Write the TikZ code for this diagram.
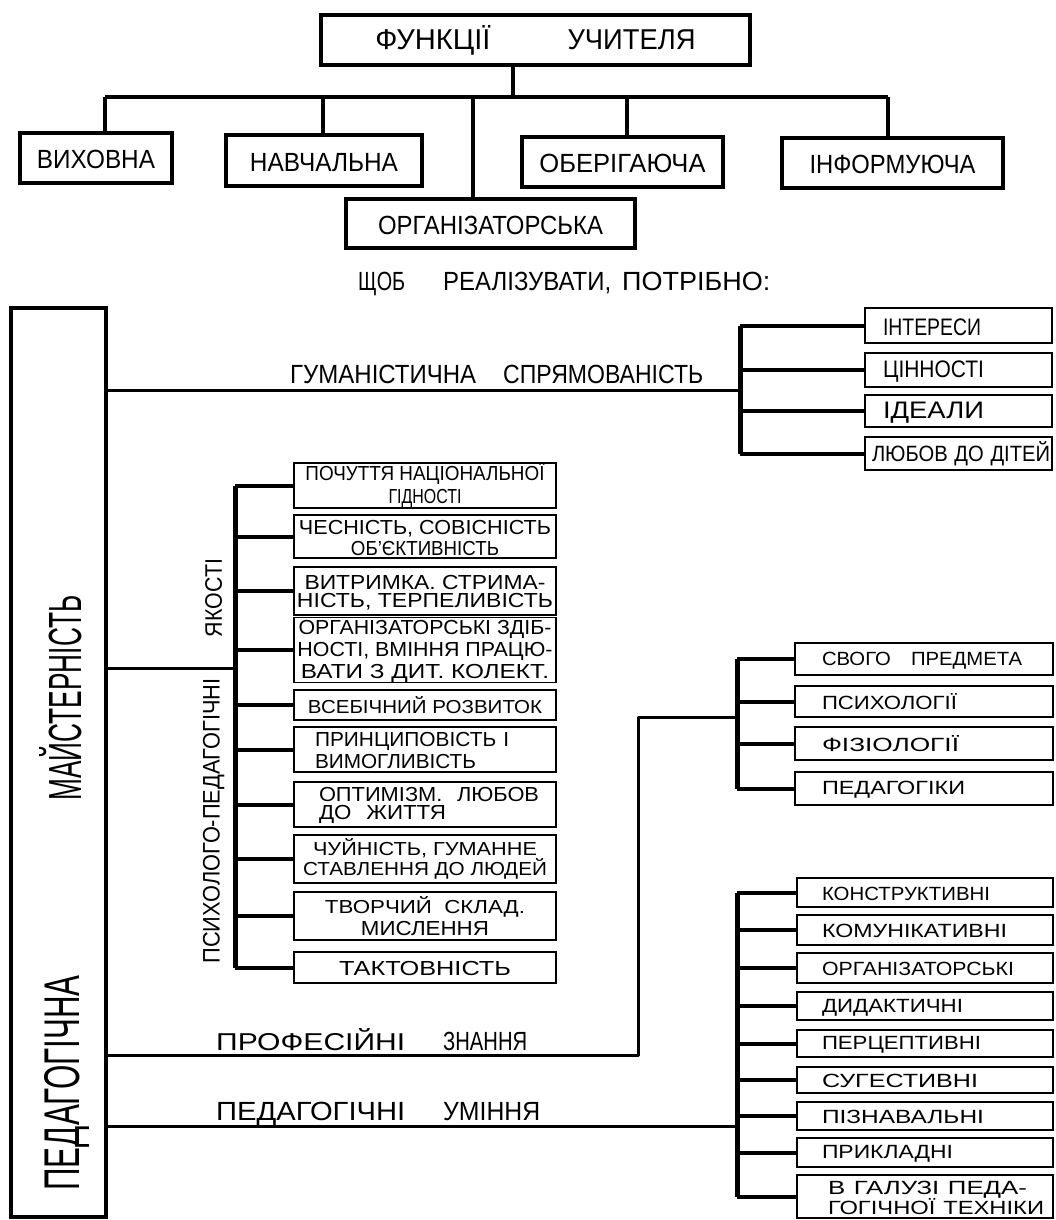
\documentclass[tikz,border=0pt]{standalone}
\usepackage{fontspec}
\setmainfont{Liberation Sans}
\usepackage{graphicx}
\newcommand\fitt[3]{\resizebox{#1pt}{#2pt}{\vphantom{Ї}#3}}
\tikzset{
  topbx/.style={draw, line width=4pt, inner sep=0pt},
  lstbx/.style={draw, line width=1.8pt, inner sep=0pt, font=\fontsize{10}{18}\selectfont},
  qbx/.style={lstbx, minimum width=262pt, align=center},
  qbxl/.style={lstbx, minimum width=262pt, inner xsep=21pt, text width=220pt, align=left},
  hbx/.style={lstbx, minimum width=187pt, inner xsep=18pt, text width=151pt, align=left},
  pbx/.style={lstbx, minimum width=258pt, inner xsep=27pt, text width=204pt, align=left},
  ubx/.style={lstbx, minimum width=256pt, inner xsep=25pt, text width=206pt, align=left},
  conn/.style={line width=4pt},
  mline/.style={line width=3pt},
  brkt/.style={line width=5pt},
  tck/.style={line width=4pt},
  lbltxt/.style={inner sep=0pt, anchor=base west},
  rottxt/.style={inner sep=0pt, rotate=90},
}
\begin{document}
\begin{tikzpicture}[x=1pt, y=-1pt]
\fill[white] (0,0) rectangle (1055,1220);
\useasboundingbox (0,0) rectangle (1055,1220);

% ---------- top part ----------
\node[topbx, minimum width=429pt, minimum height=50pt] (top) at (535.5,40)
  {\fitt{115}{24}{ФУНКЦІЇ}\hspace{77pt}\fitt{128}{24}{УЧИТЕЛЯ}\hspace{60pt}};
\node[topbx, minimum width=152pt, minimum height=50pt] (vyh) at (96,158) {\fitt{118}{22}{ВИХОВНА}};
\node[topbx, minimum width=196pt, minimum height=51pt] (nav) at (324,160.5) {\fitt{148}{22}{НАВЧАЛЬНА}\hspace{20pt}};
\node[topbx, minimum width=289pt, minimum height=49pt] (org) at (490.5,223.5) {\fitt{225}{22}{ОРГАНІЗАТОРСЬКА}\hspace{16pt}};
\node[topbx, minimum width=201pt, minimum height=50pt] (obe) at (622.5,162) {\fitt{166}{22}{ОБЕРІГАЮЧА}};
\node[topbx, minimum width=221pt, minimum height=50pt] (inf) at (892.5,163) {\fitt{166}{22}{ІНФОРМУЮЧА}\hspace{25pt}};

\coordinate (tj) at (513,97);
\coordinate (j1) at (105,97);
\coordinate (j2) at (323,97);
\coordinate (j3) at (473,97);
\coordinate (j4) at (627,97);
\coordinate (j5) at (888,97);
\draw[conn] (tj |- top.south) -- (tj);
\draw[conn] (j1) -- (j5);
\draw[conn] (j1) -- (j1 |- vyh.north);
\draw[conn] (j2) -- (j2 |- nav.north);
\draw[conn] (j3) -- (j3 |- org.north);
\draw[conn] (j4) -- (j4 |- obe.north);
\draw[conn] (j5) -- (j5 |- inf.north);

\node[lbltxt] (shob) at (358,290)
  {\fitt{47}{22}{ЩОБ}\hspace{38pt}\fitt{168}{22}{РЕАЛІЗУВАТИ,}\hspace{11pt}\fitt{148}{22}{ПОТРІБНО:}};

% ---------- left column ----------
\node[topbx, minimum width=95pt, minimum height=909pt] (mast) at (58.5,762.5) {};
\node[rottxt] (tped) at (63,1083) {\fitt{215}{42}{ПЕДАГОГІЧНА}};
\node[rottxt] (tmai) at (61,698) {\fitt{205}{42}{МАЙСТЕРНІСТЬ}};

% ---------- humanistic orientation ----------
\coordinate (hj) at (740,390);
\node[lbltxt] (thum) at (290,383) {\fitt{186}{22}{ГУМАНІСТИЧНА}\hspace{27pt}\fitt{200}{22}{СПРЯМОВАНІСТЬ}};
\node[hbx, minimum height=35pt] (int) at (958.5,325.5) {\fitt{98}{20}{ІНТЕРЕСИ}};
\node[hbx, minimum height=34pt] (cin) at (958.5,370) {\fitt{101}{20}{ЦІННОСТІ}};
\node[hbx, minimum height=32pt] (ide) at (958.5,411) {\fitt{101}{20}{ІДЕАЛИ}};
\node[hbx, minimum height=33pt, inner xsep=7pt, text width=173pt] (lyu) at (958.5,453.5) {\fitt{178}{20}{ЛЮБОВ ДО ДІТЕЙ}};
\draw[mline] (mast.east |- hj) -- (hj);
\draw[brkt] (int.west -| hj) -- (lyu.west -| hj);
\foreach \n in {int,cin,ide,lyu} \draw[tck] (\n.west -| hj) -- (\n.west);

% ---------- psycho-pedagogical qualities ----------
\coordinate (qj) at (235,668);
\node[rottxt] (tps) at (212,821) {\fitt{285}{20}{ПСИХОЛОГО-ПЕДАГОГІЧНІ}};
\node[rottxt] (tya) at (212,598) {\fitt{78}{20}{ЯКОСТІ}};
\node[qbx, minimum height=45pt] (q1) at (425,485.5) {\fitt{239}{17}{ПОЧУТТЯ НАЦІОНАЛЬНОЇ}\\\fitt{73}{17}{ГІДНОСТІ}};
\node[qbx, minimum height=43pt] (q2) at (425,536.5) {\fitt{252}{17}{ЧЕСНІСТЬ, СОВІСНІСТЬ}\\\fitt{148}{17}{ОБ'ЄКТИВНІСТЬ}};
\node[qbx, minimum height=48pt] (q3) at (425,591) {\fitt{241}{17}{ВИТРИМКА. СТРИМА-}\\\fitt{256}{17}{НІСТЬ, ТЕРПЕЛИВІСТЬ}};
\node[qbx, minimum height=64pt] (q4) at (425,650) {\fitt{253}{17}{ОРГАНІЗАТОРСЬКІ ЗДІБ-}\\\fitt{255}{17}{НОСТІ, ВМІННЯ ПРАЦЮ-}\\\fitt{248}{17}{ВАТИ З ДИТ. КОЛЕКТ.}};
\node[qbx, minimum height=30pt] (q5) at (425,705) {\fitt{234}{17}{ВСЕБІЧНИЙ РОЗВИТОК}};
\node[qbxl, minimum height=45pt] (q6) at (425,749.5) {\fitt{194}{17}{ПРИНЦИПОВІСТЬ І}\\\fitt{161}{17}{ВИМОГЛИВІСТЬ}};
\node[qbxl, minimum height=45pt, inner xsep=25pt, text width=212pt] (q7) at (425,804.5) {\fitt{220}{17}{ОПТИМІЗМ.\ \ ЛЮБОВ}\\\fitt{127}{17}{ДО\ \ ЖИТТЯ}};
\node[qbx, minimum height=48pt] (q8) at (425,859) {\fitt{224}{17}{ЧУЙНІСТЬ, ГУМАННЕ}\\\fitt{244}{17}{СТАВЛЕННЯ ДО ЛЮДЕЙ}};
\node[qbx, minimum height=48pt] (q9) at (425,916) {\fitt{200}{17}{ТВОРЧИЙ\ \ СКЛАД.}\\\fitt{128}{17}{МИСЛЕННЯ}};
\node[qbx, minimum height=31pt] (q10) at (425,967.5) {\fitt{172}{17}{ТАКТОВНІСТЬ}};
\draw[mline] (mast.east |- qj) -- (qj);
\draw[brkt] (q1.west -| qj) -- (q10.west -| qj);
\foreach \n in {q1,q2,q3,q4,q5,q6,q7,q8,q9,q10} \draw[tck] (\n.west -| qj) -- (\n.west);

% ---------- professional knowledge ----------
\coordinate (pk1) at (638,1055);
\coordinate (pk2) at (638,717);
\coordinate (pk3) at (737,717);
\node[lbltxt] (tprof) at (216,1050) {\fitt{189}{22}{ПРОФЕСІЙНІ}\hspace{38pt}\fitt{84}{22}{ЗНАННЯ}};
\node[pbx, minimum height=32pt] (svo) at (924,659) {\fitt{200}{16}{СВОГО\ \ \ ПРЕДМЕТА}};
\node[pbx, minimum height=31pt] (psy) at (924,701.5) {\fitt{135}{16}{ПСИХОЛОГІЇ}};
\node[pbx, minimum height=33pt] (fiz) at (924,743.5) {\fitt{137}{16}{ФІЗІОЛОГІЇ}};
\node[pbx, minimum height=33pt] (ped) at (924,788.5) {\fitt{143}{16}{ПЕДАГОГІКИ}};
\draw[mline, line join=round] (mast.east |- pk1) -- (pk1) -- (pk2) -- (pk3);
\draw[brkt] (svo.west -| pk3) -- (ped.west -| pk3);
\foreach \n in {svo,psy,fiz,ped} \draw[tck] (\n.west -| pk3) -- (\n.west);

% ---------- pedagogical skills ----------
\coordinate (uj) at (737,1126);
\node[lbltxt] (tum) at (216,1120) {\fitt{189}{22}{ПЕДАГОГІЧНІ}\hspace{38pt}\fitt{97}{22}{УМІННЯ}};
\node[ubx, minimum height=29pt] (kon) at (925,892.5) {\fitt{168}{16}{КОНСТРУКТИВНІ}};
\node[ubx, minimum height=30pt] (kom) at (925,930) {\fitt{185}{16}{КОМУНІКАТИВНІ}};
\node[ubx, minimum height=30pt] (orh) at (925,968) {\fitt{192}{16}{ОРГАНІЗАТОРСЬКІ}};
\node[ubx, minimum height=28pt] (dyd) at (925,1006) {\fitt{141}{16}{ДИДАКТИЧНІ}};
\node[ubx, minimum height=27pt] (per) at (925,1043.5) {\fitt{159}{16}{ПЕРЦЕПТИВНІ}};
\node[ubx, minimum height=26pt] (sug) at (925,1080) {\fitt{156}{16}{СУГЕСТИВНІ}};
\node[ubx, minimum height=28pt] (piz) at (925,1116) {\fitt{162}{16}{ПІЗНАВАЛЬНІ}};
\node[ubx, minimum height=29pt] (pry) at (925,1152.5) {\fitt{131}{16}{ПРИКЛАДНІ}};
\node[ubx, minimum height=43pt, inner xsep=31pt, text width=194pt, font=\fontsize{10}{19}\selectfont] (gal) at (925,1196.5) {\fitt{199}{16}{В ГАЛУЗІ ПЕДА-}\\\fitt{216}{16}{ГОГІЧНОЇ ТЕХНІКИ}};
\draw[mline] (mast.east |- uj) -- (uj);
\draw[brkt] (kon.west -| uj) -- (gal.west -| uj);
\foreach \n in {kon,kom,orh,dyd,per,sug,piz,pry,gal} \draw[tck] (\n.west -| uj) -- (\n.west);
\end{tikzpicture}
\end{document}
